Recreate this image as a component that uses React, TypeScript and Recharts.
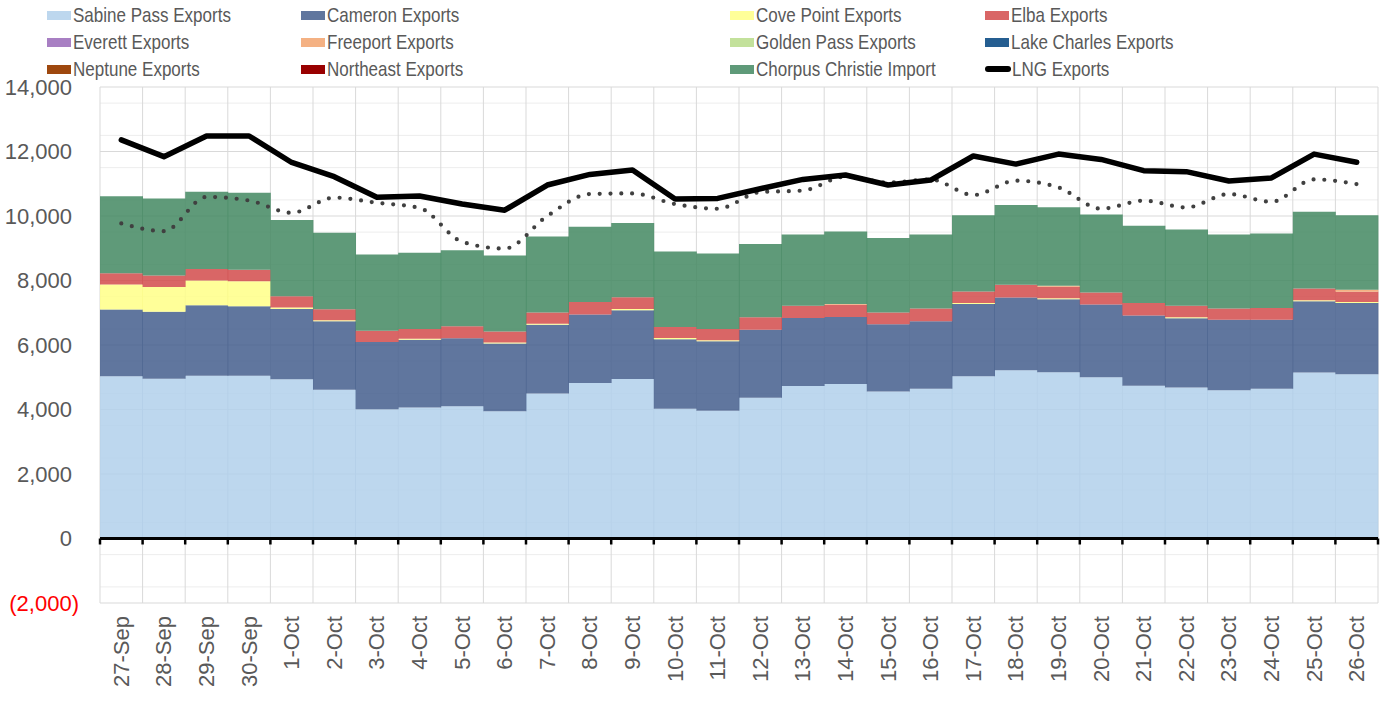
import React from 'react';
import { ComposedChart, Bar, Line, XAxis, YAxis, CartesianGrid, ReferenceLine } from 'recharts';

const dates = ['27-Sep', '28-Sep', '29-Sep', '30-Sep', '1-Oct', '2-Oct', '3-Oct', '4-Oct', '5-Oct', '6-Oct', '7-Oct', '8-Oct', '9-Oct', '10-Oct', '11-Oct', '12-Oct', '13-Oct', '14-Oct', '15-Oct', '16-Oct', '17-Oct', '18-Oct', '19-Oct', '20-Oct', '21-Oct', '22-Oct', '23-Oct', '24-Oct', '25-Oct', '26-Oct'];

const sabinePass = [5030, 4950, 5050, 5050, 4935, 4615, 4005, 4065, 4100, 3945, 4500, 4825, 4945, 4025, 3965, 4365, 4730, 4790, 4555, 4645, 5030, 5215, 5155, 5000, 4740, 4680, 4595, 4645, 5145, 5090];
const cameron = [2070, 2080, 2185, 2150, 2185, 2120, 2090, 2095, 2110, 2100, 2125, 2120, 2135, 2155, 2150, 2105, 2110, 2080, 2090, 2090, 2245, 2255, 2265, 2255, 2175, 2150, 2185, 2135, 2215, 2215];
const covePoint = [775, 770, 765, 780, 40, 35, 0, 30, 0, 30, 35, 0, 40, 35, 35, 0, 0, 0, 0, 0, 30, 0, 30, 0, 0, 30, 0, 0, 30, 30];
const elba = [350, 355, 360, 350, 355, 340, 345, 310, 370, 340, 345, 390, 360, 345, 350, 390, 375, 375, 360, 395, 355, 395, 355, 370, 390, 355, 350, 370, 360, 315];
const everett = [0, 0, 0, 0, 0, 0, 0, 0, 0, 0, 0, 0, 0, 0, 0, 0, 0, 0, 0, 0, 0, 0, 0, 0, 0, 0, 0, 0, 0, 0];
const freeport = [0, 0, 0, 0, 0, 0, 0, 0, 0, 0, 0, 0, 0, 0, 0, 0, 0, 30, 0, 0, 0, 0, 30, 0, 0, 0, 0, 0, 0, 60];
const goldenPass = [0, 0, 0, 0, 0, 0, 0, 0, 0, 0, 0, 0, 0, 0, 0, 0, 0, 0, 0, 0, 0, 0, 0, 0, 0, 0, 0, 0, 0, 0];
const lakeCharles = [0, 0, 0, 0, 0, 0, 0, 0, 0, 0, 0, 0, 0, 0, 0, 0, 0, 0, 0, 0, 0, 0, 0, 0, 0, 0, 0, 0, 0, 0];
const neptune = [0, 0, 0, 0, 0, 0, 0, 0, 0, 0, 0, 0, 0, 0, 0, 0, 0, 0, 0, 0, 0, 0, 0, 0, 0, 0, 0, 0, 0, 0];
const northeast = [0, 0, 0, 0, 0, 0, 0, 0, 0, 0, 0, 0, 0, 0, 0, 0, 0, 0, 0, 0, 0, 0, 0, 0, 0, 0, 0, 0, 0, 0];
const chorpusChristie = [2385, 2390, 2390, 2390, 2360, 2370, 2365, 2360, 2360, 2360, 2360, 2330, 2300, 2340, 2340, 2270, 2215, 2245, 2310, 2300, 2360, 2475, 2440, 2425, 2390, 2370, 2300, 2310, 2380, 2310];
const lngExports = [12360, 11840, 12480, 12480, 11660, 11220, 10580, 10620, 10370, 10180, 10960, 11290, 11425, 10525, 10545, 10845, 11135, 11270, 10960, 11115, 11860, 11610, 11920, 11755, 11405, 11375, 11085, 11180, 11920, 11665];
const lngExportsPrior = [9770, 9530, 10590, 10480, 10100, 10570, 10410, 10250, 9200, 8990, 10000, 10680, 10700, 10370, 10225, 10740, 10790, 11220, 11040, 11130, 10650, 11095, 10885, 10225, 10475, 10265, 10680, 10440, 11135, 10990];

const yTicks = [-2000, 0, 2000, 4000, 6000, 8000, 10000, 12000, 14000];
const minorGrid = [-1500, -1000, -500, 500, 1000, 1500, 2500, 3000, 3500, 4500, 5000, 5500, 6500, 7000, 7500, 8500, 9000, 9500, 10500, 11000, 11500, 12500, 13000, 13500];

const series = [
  { key: 'sabinePass', name: 'Sabine Pass Exports', values: sabinePass, color: '#BDD7EE', fill: '#B1D0EB' },
  { key: 'cameron', name: 'Cameron Exports', values: cameron, color: '#60769E', fill: '#445E8D' },
  { key: 'covePoint', name: 'Cove Point Exports', values: covePoint, color: '#FFFF99', fill: '#FFFF87' },
  { key: 'elba', name: 'Elba Exports', values: elba, color: '#D96666', fill: '#D24B4B' },
  { key: 'everett', name: 'Everett Exports', values: everett, color: '#A87FC3', fill: '#A075BF' },
  { key: 'freeport', name: 'Freeport Exports', values: freeport, color: '#F4B183', fill: '#F2A36D' },
  { key: 'goldenPass', name: 'Golden Pass Exports', values: goldenPass, color: '#C3E19B', fill: '#BDDE90' },
  { key: 'lakeCharles', name: 'Lake Charles Exports', values: lakeCharles, color: '#255E91', fill: '#255E91' },
  { key: 'neptune', name: 'Neptune Exports', values: neptune, color: '#9E480E', fill: '#9E480E' },
  { key: 'northeast', name: 'Northeast Exports', values: northeast, color: '#990000', fill: '#990000' },
  { key: 'chorpusChristie', name: 'Chorpus Christie Import', values: chorpusChristie, color: '#5F9A79', fill: '#438861' },
];

const data = dates.map((d, i) => {
  const row: Record<string, any> = { date: d, lngExports: lngExports[i], lngExportsPrior: lngExportsPrior[i] };
  series.forEach((s) => { row[s.key] = s.values[i]; });
  return row;
});

const legendItems = [...series.map((s) => ({ name: s.name, color: s.color, line: false })), { name: 'LNG Exports', color: '#000000', line: true }];
const legendCols = [47, 301, 730, 985];
const legendRows = [15, 42, 69];

const TEXT = '#595959';
const FONT = '"Liberation Sans", Arial, sans-serif';

const YTick = (props: any) => {
  const { x, y, payload } = props;
  const v = payload.value as number;
  const neg = v < 0;
  const label = neg ? `(${Math.abs(v).toLocaleString('en-US')})` : v.toLocaleString('en-US');
  return (
    <text x={neg ? x : x - 7} y={y} dy="0.36em" textAnchor="end" fill={neg ? '#FF0000' : TEXT} fontSize={22} fontFamily={FONT}>
      {label}
    </text>
  );
};

const XTick = (props: any) => {
  const { x, y, payload } = props;
  return (
    <text x={x} y={y} transform={`rotate(-90 ${x} ${y})`} textAnchor="end" dominantBaseline="central" fill={TEXT} fontSize={22} fontFamily={FONT}>
      {payload.value}
    </text>
  );
};

const ZeroLine = (props: any) => {
  const { x1, y1, x2, y2 } = props;
  const n = dates.length;
  const step = (x2 - x1) / n;
  return (
    <g>
      <line x1={x1} y1={y1} x2={x2} y2={y2} stroke="#000" strokeWidth={3} />
      {Array.from({ length: n + 1 }, (_, i) => (
        <line key={i} x1={x1 + i * step} x2={x1 + i * step} y1={y1} y2={y1 + 6} stroke="#000" strokeWidth={2.5} />
      ))}
    </g>
  );
};

const boundaryGen = (p: any) => {
  const { offset } = p;
  const n = dates.length;
  return Array.from({ length: n + 1 }, (_, i) => offset.left + (i * offset.width) / n);
};

export default function App() {
  return (
    <div style={{ position: 'absolute', left: 0, top: 0, width: 1390, height: 702, background: '#fff' }}>
      <ComposedChart width={1390} height={702} data={data} margin={{ top: 87, right: 12, bottom: 0, left: 0 }} barCategoryGap={0} barGap={0}>
        <CartesianGrid stroke="#EDEDED" horizontalValues={minorGrid} vertical={false} />
        <CartesianGrid stroke="#D9D9D9" horizontalValues={yTicks} verticalCoordinatesGenerator={boundaryGen} />
        <XAxis dataKey="date" height={99} interval={0} axisLine={false} tickLine={false} tickSize={0} tickMargin={13} tick={<XTick />} />
        <YAxis domain={[-2000, 14000]} ticks={yTicks} width={100} axisLine={false} tickLine={false} tickSize={0} tickMargin={21} tick={<YTick />} allowDataOverflow />
        {series.map((s) => (
          <Bar key={s.key} dataKey={s.key} name={s.name} stackId="stack" fill={s.fill} fillOpacity={0.85} isAnimationActive={false} />
        ))}
        <ReferenceLine y={0} shape={<ZeroLine />} />
        <Line dataKey="lngExportsPrior" name="LNG Exports Prior" type="monotone" stroke="#404040" strokeWidth={4.2} strokeDasharray="0 10.8" strokeLinecap="round" dot={false} activeDot={false} isAnimationActive={false} />
        <Line dataKey="lngExports" name="LNG Exports" type="linear" stroke="#000000" strokeWidth={5.5} strokeLinejoin="round" strokeLinecap="round" dot={false} activeDot={false} isAnimationActive={false} />
      </ComposedChart>
      {legendItems.map((it, i) => {
        const c = i % 4;
        const r = Math.floor(i / 4);
        return (
          <div key={it.name} style={{ position: 'absolute', left: legendCols[c], top: legendRows[r] - 13, height: 26, display: 'flex', alignItems: 'center', whiteSpace: 'nowrap' }}>
            {it.line ? (
              <div style={{ width: 26, height: 6, borderRadius: 3, background: it.color, marginRight: 1 }} />
            ) : (
              <div style={{ width: 24, height: 9, background: it.color, marginRight: 2 }} />
            )}
            <span style={{ display: 'inline-block', transform: 'scaleX(0.81)', transformOrigin: 'left center', fontFamily: FONT, fontSize: 21, color: TEXT, lineHeight: '26px' }}>{it.name}</span>
          </div>
        );
      })}
    </div>
  );
}
